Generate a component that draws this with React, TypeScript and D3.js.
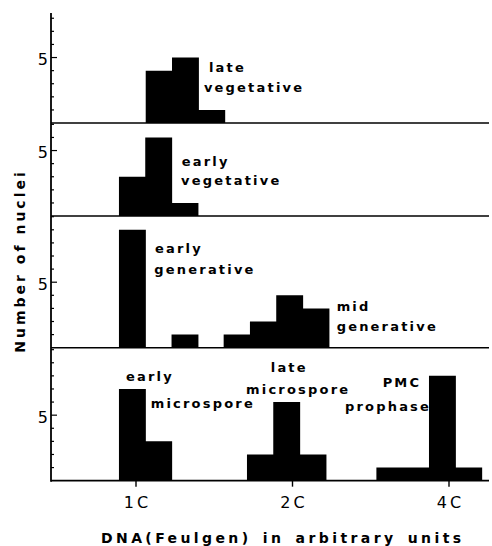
import * as d3 from "d3";

// x is log2 of DNA content (1C = 0, 2C = 1, 4C = 2)
const dnaTicks = [0, 1, 2];
const dnaTickLabels = ["1C", "2C", "4C"];
const binWidth = 0.168;

// y extent of each stacked panel (number of nuclei), top to bottom
const panelMax = [8.4, 7.1, 10.05, 10.15];

// histogram counts per class
const lateVegetative = [4, 5, 1];
const earlyVegetative = [3, 6, 1];
const earlyGenerative = [9, 0, 1];
const midGenerative = [1, 2, 4, 3];
const earlyMicrospore = [7, 3];
const lateMicrospore = [2, 6, 2];
const pmcProphase = [1, 1, 8, 1];

// first bin edge (log2 units) of each histogram
const binStarts = [0.064, -0.107, -0.107, 0.562, -0.107, 0.711, 1.538];
const histPanels = [0, 1, 2, 2, 3, 3, 3];
const histCounts = [
  lateVegetative, earlyVegetative, earlyGenerative, midGenerative,
  earlyMicrospore, lateMicrospore, pmcProphase,
];

// annotations: panel, text, x (log2 units), y (count) of the baseline
const labels: [number, string, number, number][] = [
  [0, "late", 0.466, 3.88],
  [0, "vegetative", 0.434, 2.35],
  [1, "early", 0.292, 3.79],
  [1, "vegetative", 0.288, 2.4],
  [2, "early", 0.121, 7.25],
  [2, "generative", 0.117, 5.64],
  [2, "mid", 1.282, 2.81],
  [2, "generative", 1.282, 1.28],
  [3, "early", -0.064, 7.6],
  [3, "microspore", 0.094, 5.57],
  [3, "late", 0.861, 8.3],
  [3, "microspore", 0.703, 6.65],
  [3, "PMC", 1.576, 7.15],
  [3, "prophase", 1.335, 5.3],
];

const W = 492;
const H = 546;
const left = 51;
const right = 489;
const top = 13;
const unit = 13.1;
const font = "'DejaVu Sans', sans-serif";

export default function App() {
  const x = d3.scaleLinear().domain([0, 2]).range([136, 449]);

  const baselines: number[] = [];
  let acc = top;
  panelMax.forEach((m) => {
    acc += m * unit;
    baselines.push(acc);
  });
  const yScales = panelMax.map((m, i) =>
    d3.scaleLinear().domain([0, m]).range([baselines[i], baselines[i] - m * unit])
  );
  const bottom = baselines[baselines.length - 1];

  // one path per histogram so neighbouring bins don't show seams
  const barPaths = histCounts.map((counts, h) => {
    const y = yScales[histPanels[h]];
    const p = d3.path();
    counts.forEach((c, i) => {
      if (!c) return;
      const x0 = x(binStarts[h] + i * binWidth);
      const x1 = x(binStarts[h] + (i + 1) * binWidth);
      p.rect(x0 - 0.3, y(c), x1 - x0 + 0.6, y(0) - y(c));
    });
    return p.toString();
  });

  return (
    <svg
      width={W}
      height={H}
      style={{ position: "absolute", left: 0, top: 0, background: "#fff" }}
      fontFamily={font}
    >
      <rect width={W} height={H} fill="#fff" />

      {barPaths.map((d, i) => (
        <path key={i} d={d} fill="#000" />
      ))}

      {/* panel baselines */}
      {baselines.map((b, i) => (
        <line key={i} x1={left} x2={right} y1={b} y2={b} stroke="#000" strokeWidth={1.6} />
      ))}

      {/* y axis */}
      <line x1={left} x2={left} y1={top} y2={bottom + 1} stroke="#000" strokeWidth={1.8} />
      {yScales.map((y, p) =>
        d3.range(1, Math.floor(panelMax[p]) + 1).map((v) => (
          <line
            key={`${p}-${v}`}
            x1={left}
            x2={left + (v === 5 ? 6 : 3)}
            y1={y(v)}
            y2={y(v)}
            stroke="#000"
            strokeWidth={1.2}
          />
        ))
      )}
      {yScales.map((y, p) => (
        <text key={p} x={48} y={y(5) + 7.5} textAnchor="end" fontSize={16}>
          5
        </text>
      ))}

      {/* x ticks */}
      {dnaTicks.map((t, i) => (
        <g key={t}>
          <line x1={x(t)} x2={x(t)} y1={bottom} y2={bottom + 6} stroke="#000" strokeWidth={1.4} />
          <text x={x(t) + 1.5} y={508} textAnchor="middle" fontSize={16} letterSpacing={3}>
            {dnaTickLabels[i]}
          </text>
        </g>
      ))}

      {/* annotations */}
      {labels.map(([p, t, lx, ly], i) => (
        <text key={i} x={x(lx)} y={yScales[p](ly)} fontSize={13} fontWeight="bold" letterSpacing={2.2}>
          {t}
        </text>
      ))}

      {/* axis titles */}
      <text x={101} y={543} fontSize={14} fontWeight="bold" letterSpacing={3.4} wordSpacing={3}>
        DNA(Feulgen) in arbitrary units
      </text>
      <text
        transform="translate(25,261) rotate(-90)"
        textAnchor="middle"
        fontSize={14}
        fontWeight="bold"
        letterSpacing={3}
      >
        Number of nuclei
      </text>
    </svg>
  );
}
